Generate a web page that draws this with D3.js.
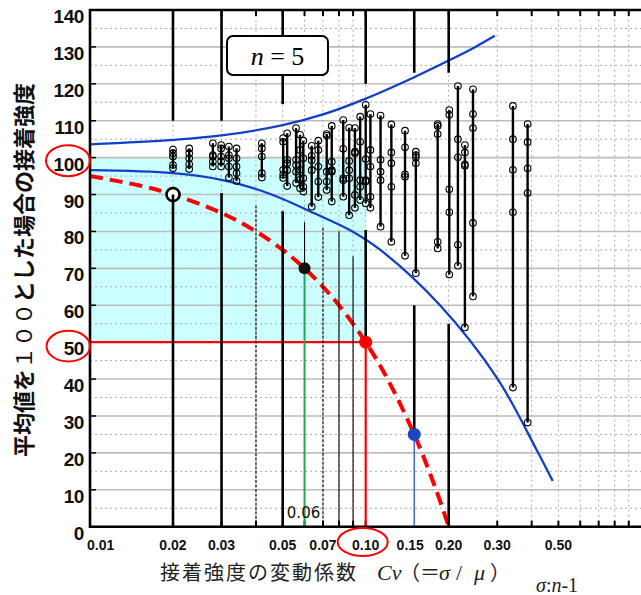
<!DOCTYPE html>
<html>
<head>
<meta charset="utf-8">
<script src="https://cdn.jsdelivr.net/npm/d3@7"></script>
<style>
  body { margin: 0; background: #fff; }
  svg { display: block; }
</style>
</head>
<body>
<svg id="chart" width="641" height="595"></svg>
<script>
// tick labels
var yTicks = [0, 10, 20, 30, 40, 50, 60, 70, 80, 90, 100, 110, 120, 130, 140];
var cvTicks = [0.01, 0.02, 0.03, 0.05, 0.07, 0.10, 0.15, 0.20, 0.30, 0.50];
var cvLabels = ["0.01", "0.02", "0.03", "0.05", "0.07", "0.10", "0.15", "0.20", "0.30", "0.50"];

// measured groups (n = 5), Cv and the five values
var groupCv = [0.0200, 0.0229, 0.0279, 0.0299, 0.0319, 0.0340, 0.0420, 0.0502, 0.0519, 0.0559,
  0.0578, 0.0594, 0.0637, 0.0673, 0.0722, 0.0753, 0.0829, 0.0871, 0.0914, 0.0955,
  0.1000, 0.1040, 0.1132, 0.1239, 0.1389, 0.1520, 0.1824, 0.2010, 0.2160, 0.2290,
  0.2450, 0.3420, 0.3866];
var groupValues = [
  [102.2, 101.2, 100.3, 98.0, 97.1],
  [102.5, 101.2, 99.8, 98.2, 96.9],
  [103.9, 100.7, 100.3, 98.9, 97.6],
  [103.4, 102.5, 100.3, 99.0, 97.6],
  [103.0, 100.7, 99.8, 97.6, 94.6],
  [102.5, 99.8, 97.6, 95.8, 93.7],
  [103.9, 102.5, 100.3, 95.8, 94.6],
  [105.3, 104.3, 96.7, 95.3, 94.5],
  [106.6, 99.4, 98.5, 96.6, 92.3],
  [108.0, 99.4, 98.0, 96.2, 93.1],
  [106.2, 102.1, 96.7, 94.0, 91.7],
  [104.6, 99.8, 94.4, 92.1, 90.8],
  [103.2, 100.5, 99.3, 96.6, 86.7],
  [104.6, 102.1, 97.6, 93.5, 89.3],
  [106.4, 105.9, 96.2, 93.5, 91.2],
  [108.6, 98.9, 96.6, 96.2, 88.1],
  [110.2, 102.4, 94.4, 93.9, 89.4],
  [108.1, 99.1, 96.6, 94.4, 84.4],
  [108.0, 101.6, 101.2, 89.9, 86.4],
  [111.1, 104.3, 93.9, 92.1, 88.5],
  [114.3, 99.6, 93.9, 93.5, 87.6],
  [111.8, 102.1, 97.6, 89.4, 86.4],
  [111.4, 99.4, 96.2, 93.9, 81.3],
  [109.0, 101.4, 98.5, 92.1, 77.2],
  [107.3, 102.8, 95.5, 94.8, 73.4],
  [101.6, 100.7, 100.1, 98.5, 68.7],
  [109.1, 108.6, 106.4, 77.2, 75.4],
  [112.9, 111.6, 91.4, 85.2, 68.3],
  [119.4, 105.0, 100.1, 76.4, 70.7],
  [103.4, 101.4, 98.2, 97.8, 54.0],
  [118.5, 111.8, 108.0, 82.3, 62.4],
  [114.0, 105.0, 96.7, 85.2, 37.7],
  [109.1, 104.2, 97.1, 90.4, 28.2]
];

// blue limit curves
var upperCv = [0.01, 0.02, 0.03, 0.05, 0.07, 0.10, 0.15, 0.20, 0.25, 0.294];
var upperVal = [103.6, 104.8, 106.0, 108.8, 111.7, 116.0, 121.8, 126.3, 130.0, 133.0];
var lowerCv = [0.01, 0.02, 0.03, 0.04, 0.05, 0.063, 0.0875, 0.113, 0.186, 0.30, 0.417, 0.477];
var lowerVal = [96.6, 95.8, 94.0, 91.5, 88.8, 85.4, 80.4, 75.0, 60.0, 40.2, 20.8, 12.4];

// red dashed curve
var redCv = [0.01, 0.015, 0.02, 0.03, 0.04, 0.05, 0.06, 0.07, 0.08, 0.10, 0.12, 0.15, 0.18, 0.20];
var redVal = [95, 92.5, 90, 85, 80, 75, 70, 65, 60, 50, 40, 25, 10, 0];

// black vertical guide lines: upper part from the top, lower part down to a value
var upperLineCv = [0.02, 0.03, 0.05, 0.10, 0.15, 0.20];
var upperLineTo = [110, 110, 114.5, 120, 123, 123];
var lowerLineCv = [0.02, 0.03, 0.04, 0.05, 0.06, 0.07, 0.08, 0.09, 0.10, 0.15, 0.20];
var lowerLineFrom = [90, 90.4, 87, 85.5, 82.5, 81, 80, 73.3, 80.4, 60, 55];
var lowerLineTo = [0, 0, 0, 0, 70, 0, 0, 0, 50, 25, 0];
var lowerLineThick = [true, true, false, true, false, false, false, false, true, true, true];
var lowerLineDashed = [false, false, true, false, false, true, false, false, false, false, false];

// highlighted points
var markCv = [0.02, 0.06, 0.10, 0.15];
var markVal = [90, 70, 50, 25];

var svg = d3.select("#chart");
var x = d3.scaleLog().domain([0.01, 1]).range([90, 641.4]);
var y = d3.scaleLinear().domain([0, 140]).range([526.7, 10]);

// cyan zone
svg.append("rect")
  .attr("x", x(0.01)).attr("y", y(100))
  .attr("width", x(0.1) - x(0.01)).attr("height", y(50) - y(100))
  .attr("fill", "#ccffff");

// grid
var grid = svg.append("g");
yTicks.forEach(function (v) {
  if (v > 0 && v < 140) {
    grid.append("line").attr("x1", x(0.01)).attr("x2", x(1))
      .attr("y1", y(v)).attr("y2", y(v))
      .attr("stroke", "#bdbdbd").attr("stroke-width", 1.6);
  }
  if (v < 140) {
    grid.append("line").attr("x1", x(0.01)).attr("x2", x(1))
      .attr("y1", y(v + 5)).attr("y2", y(v + 5))
      .attr("stroke", "#aaa").attr("stroke-width", 1).attr("stroke-dasharray", "2,3");
  }
});
x.ticks().forEach(function (c) {
  if (c > 0.0101 && c < 0.999) {
    grid.append("line").attr("x1", x(c)).attr("x2", x(c))
      .attr("y1", y(0)).attr("y2", y(140))
      .attr("stroke", "#aaa").attr("stroke-width", 1).attr("stroke-dasharray", "2,3");
    // inner tick marks top and bottom
    grid.append("line").attr("x1", x(c)).attr("x2", x(c))
      .attr("y1", y(0)).attr("y2", y(0) - 6).attr("stroke", "#000").attr("stroke-width", 2);
    grid.append("line").attr("x1", x(c)).attr("x2", x(c))
      .attr("y1", y(140)).attr("y2", y(140) + 6).attr("stroke", "#000").attr("stroke-width", 2);
  }
});
yTicks.forEach(function (v) {
  grid.append("line").attr("x1", x(0.01)).attr("x2", x(0.01) + 6)
    .attr("y1", y(v)).attr("y2", y(v)).attr("stroke", "#000").attr("stroke-width", 1.5);
});

// black guide lines
var guides = svg.append("g").attr("stroke", "#000");
upperLineCv.forEach(function (c, i) {
  guides.append("line").attr("x1", x(c)).attr("x2", x(c))
    .attr("y1", y(140)).attr("y2", y(upperLineTo[i])).attr("stroke-width", 2.6);
});

var smooth = d3.line()
  .x(function (d) { return x(d[0]); })
  .y(function (d) { return y(d[1]); })
  .curve(d3.curveCatmullRom.alpha(0.5));

// blue curves
svg.append("path").datum(d3.zip(upperCv, upperVal)).attr("d", smooth)
  .attr("fill", "none").attr("stroke", "#1140c8").attr("stroke-width", 2.3);
svg.append("path").datum(d3.zip(lowerCv, lowerVal)).attr("d", smooth)
  .attr("fill", "none").attr("stroke", "#1140c8").attr("stroke-width", 2.3);

// red guide lines
svg.append("line").attr("x1", x(0.01)).attr("x2", x(0.1))
  .attr("y1", y(50)).attr("y2", y(50)).attr("stroke", "#ff0000").attr("stroke-width", 2.2);
svg.append("line").attr("x1", x(0.1)).attr("x2", x(0.1))
  .attr("y1", y(50)).attr("y2", y(0)).attr("stroke", "#ff0000").attr("stroke-width", 2.2);
svg.append("line").attr("x1", x(0.06)).attr("x2", x(0.06))
  .attr("y1", y(70)).attr("y2", y(0)).attr("stroke", "#1faa55").attr("stroke-width", 2);
svg.append("line").attr("x1", x(0.15)).attr("x2", x(0.15))
  .attr("y1", y(25)).attr("y2", y(0)).attr("stroke", "#4a6fd0").attr("stroke-width", 1.6);

// red dashed curve
svg.append("path").datum(d3.zip(redCv, redVal)).attr("d", smooth)
  .attr("fill", "none").attr("stroke", "#ff0000").attr("stroke-width", 4)
  .attr("stroke-dasharray", "13,7");

// big open marker
svg.append("circle").attr("cx", x(markCv[0])).attr("cy", y(markVal[0])).attr("r", 6.5)
  .attr("fill", "#fff").attr("stroke", "#000").attr("stroke-width", 2.6);

lowerLineCv.forEach(function (c, i) {
  guides.append("line").attr("x1", x(c)).attr("x2", x(c))
    .attr("y1", y(lowerLineFrom[i])).attr("y2", y(lowerLineTo[i]))
    .attr("stroke-width", lowerLineThick[i] ? 2.6 : 1.1)
    .attr("stroke-dasharray", lowerLineDashed[i] ? "3,1.5" : null);
});
guides.raise();

// measured groups
var groups = svg.append("g");
groupCv.forEach(function (c, i) {
  var vals = groupValues[i];
  groups.append("line").attr("x1", x(c)).attr("x2", x(c))
    .attr("y1", y(d3.max(vals))).attr("y2", y(d3.min(vals)))
    .attr("stroke", "#000").attr("stroke-width", 2.4);
  groups.selectAll(null).data(vals).enter().append("circle")
    .attr("cx", x(c)).attr("cy", function (d) { return y(d); })
    .attr("r", 3.3).attr("fill", "none").attr("stroke", "#000").attr("stroke-width", 1.1);
});

// filled markers
svg.append("circle").attr("cx", x(markCv[1])).attr("cy", y(markVal[1])).attr("r", 6)
  .attr("fill", "#111");
svg.append("circle").attr("cx", x(markCv[2])).attr("cy", y(markVal[2])).attr("r", 6.5)
  .attr("fill", "#ff0000");
svg.append("circle").attr("cx", x(markCv[3])).attr("cy", y(markVal[3])).attr("r", 6.5)
  .attr("fill", "#1a46c4");

// frame
svg.append("path")
  .attr("d", "M" + x(1) + "," + y(140) + "H" + x(0.01) + "V" + y(0) + "H" + x(1))
  .attr("fill", "none").attr("stroke", "#000").attr("stroke-width", 2.6);

// n = 5 box
svg.append("rect").attr("x", 227).attr("y", 36).attr("width", 101).attr("height", 39)
  .attr("rx", 6).attr("fill", "#fff").attr("stroke", "#000").attr("stroke-width", 2);
var nt = svg.append("text").attr("x", 277.5).attr("y", 65).attr("text-anchor", "middle")
  .attr("font-family", "Liberation Serif, Times New Roman, serif").attr("font-size", 26);
nt.append("tspan").attr("font-style", "italic").text("n");
nt.append("tspan").text(" = 5");

// y tick labels
svg.append("g").selectAll("text").data(yTicks).enter().append("text")
  .attr("x", 84).attr("y", function (d) { return y(d) + 13; })
  .attr("text-anchor", "end")
  .attr("font-family", "Liberation Sans, Arial, sans-serif").attr("font-weight", "bold")
  .attr("font-size", 19).attr("letter-spacing", -0.4).attr("fill", "#111")
  .text(function (d) { return d; });

// x tick labels
svg.append("g").selectAll("text").data(cvTicks).enter().append("text")
  .attr("x", function (d, i) { return i === 0 ? x(d) - 3 : (i === 6 ? x(d) - 4 : x(d)); })
  .attr("y", 550)
  .attr("text-anchor", function (d, i) { return i === 0 ? "start" : "middle"; })
  .attr("font-family", "Liberation Sans, Arial, sans-serif").attr("font-weight", "bold")
  .attr("font-size", 14).attr("fill", "#111")
  .text(function (d, i) { return cvLabels[i]; });

// 0.06 label
svg.append("text").attr("x", x(0.06) - 1).attr("y", 518).attr("text-anchor", "middle")
  .attr("font-family", "DejaVu Sans, sans-serif").attr("font-size", 15).attr("fill", "#111")
  .text("0.06");

// red ellipses
var ell = [[68, y(100) + 3, 22, 15.5], [68.3, y(50) + 4, 21.7, 15.3], [x(0.1) - 3, 542, 25, 14]];
ell.forEach(function (e) {
  svg.append("ellipse").attr("cx", e[0]).attr("cy", e[1]).attr("rx", e[2]).attr("ry", e[3])
    .attr("fill", "none").attr("stroke", "#ff0000").attr("stroke-width", 2);
});

// y title
var yt = svg.append("text").attr("transform", "translate(32,270) rotate(-90)")
  .attr("text-anchor", "middle")
  .attr("font-family", "Noto Sans CJK JP, sans-serif").attr("font-weight", "bold")
  .attr("font-size", 22).attr("fill", "#111");
yt.append("tspan").text("平均値を");
yt.append("tspan").attr("font-weight", "normal").text("１００");
yt.append("tspan").text("とした場合の接着強度");

// x title
svg.append("text").attr("x", 160).attr("y", 580)
  .attr("font-family", "Noto Sans CJK JP, sans-serif").attr("font-size", 20)
  .attr("letter-spacing", 2).attr("fill", "#222").text("接着強度の変動係数");
var xt = svg.append("text").attr("y", 580)
  .attr("font-family", "Liberation Serif, Times New Roman, serif").attr("font-size", 22)
  .attr("fill", "#222");
var cjk = "Noto Sans CJK JP, sans-serif";
xt.append("tspan").attr("x", 377).attr("font-style", "italic").text("Cv");
xt.append("tspan").attr("x", 400).attr("font-family", cjk).attr("font-size", 20).text("（＝");
xt.append("tspan").attr("x", 439).attr("font-style", "italic").text("σ");
xt.append("tspan").attr("x", 456).text("/");
xt.append("tspan").attr("x", 474).attr("font-style", "italic").text("μ");
xt.append("tspan").attr("x", 490).attr("font-family", cjk).attr("font-size", 20).text("）");

var st = svg.append("text").attr("x", 536).attr("y", 592)
  .attr("font-family", "Liberation Serif, Times New Roman, serif").attr("font-size", 20)
  .attr("fill", "#222");
st.append("tspan").attr("font-style", "italic").text("σ");
st.append("tspan").text(":");
st.append("tspan").attr("font-style", "italic").text("n");
st.append("tspan").text("-1");
</script>
</body>
</html>
